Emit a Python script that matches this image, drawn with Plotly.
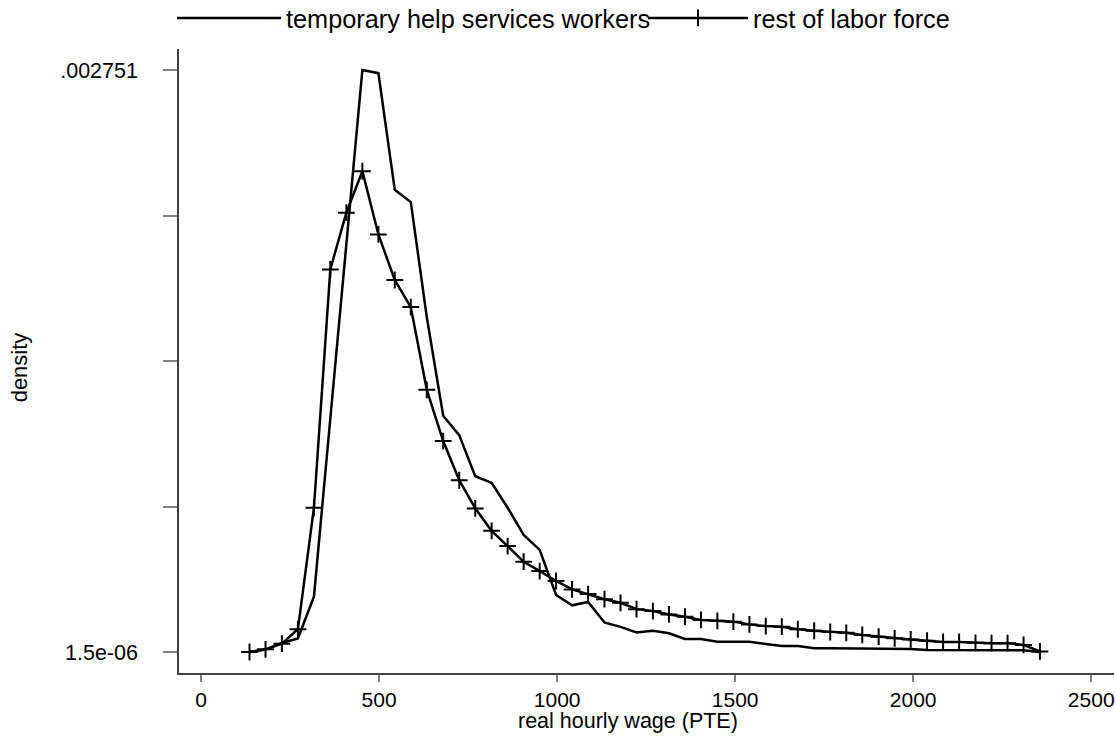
import plotly.graph_objects as go

# Evaluation grid (real hourly wage, PTE)
wage = [136, 181, 227, 272, 317, 363, 408, 453, 498, 544,
        589, 634, 680, 725, 770, 816, 861, 906, 951, 997,
        1042, 1087, 1133, 1178, 1223, 1269, 1314, 1359, 1404, 1450,
        1495, 1540, 1586, 1631, 1676, 1722, 1767, 1812, 1857, 1903,
        1948, 1993, 2039, 2084, 2129, 2175, 2220, 2265, 2310, 2356]

# density values, in units of 1e-6
temp_help_e6 = [2, 13, 44, 66, 263, 1092, 1923, 2751, 2736, 2185,
                2127, 1583, 1118, 1026, 832, 801, 683, 555, 484, 271,
                222, 238, 141, 120, 94, 102, 90, 63, 63, 50,
                50, 50, 39, 30, 30, 19, 19, 18, 16, 16,
                16, 16, 11, 11, 11, 11, 11, 11, 10, 2]

rest_e6 = [1.5, 14, 41, 109, 683, 1809, 2077, 2273, 1974, 1759,
           1631, 1240, 998, 813, 680, 574, 502, 428, 384, 337,
           297, 275, 251, 234, 204, 195, 179, 168, 153, 149,
           145, 132, 124, 121, 109, 102, 96, 92, 82, 74,
           66, 61, 55, 49, 49, 45, 43, 43, 35, 4]

temp_help = [v * 1e-6 for v in temp_help_e6]
rest = [v * 1e-6 for v in rest_e6]

series_names = ["temporary help services workers", "rest of labor force"]

y_tickvals = [0.0000015, 0.000688875, 0.00137625, 0.002063625, 0.002751]
y_ticktext = ["1.5e-06", "", "", "", ".002751"]
x_tickvals = [0, 500, 1000, 1500, 2000, 2500]
x_ticktext = ["0", "500", "1000", "1500", "2000", "2500"]
x_title = "real hourly wage (PTE)"
y_title = "density"

FONT = "Liberation Sans, Arial, sans-serif"

fig = go.Figure()
fig.add_trace(go.Scatter(
    x=wage, y=temp_help, mode="lines", name=series_names[0], legend="legend",
    line=dict(color="black", width=2.5)))
fig.add_trace(go.Scatter(
    x=wage, y=rest, mode="lines+markers", name=series_names[1], legend="legend2",
    line=dict(color="black", width=2.5),
    marker=dict(symbol="cross-thin", size=12, color="black",
                line=dict(color="black", width=2))))

legend_common = dict(orientation="h", yref="container", y=1 - 18 / 742, yanchor="middle",
                     xref="container", xanchor="left",
                     font=dict(family=FONT, size=25.3, color="black"),
                     bgcolor="rgba(0,0,0,0)")

fig.update_layout(
    width=1116, height=742,
    margin=dict(l=179, r=2, t=49, b=69, autoexpand=False),
    paper_bgcolor="white", plot_bgcolor="white",
    font=dict(family=FONT, size=21, color="black"),
    showlegend=True,
    legend=dict(x=172 / 1116, itemwidth=104, **legend_common),
    legend2=dict(x=643 / 1116, itemwidth=100, **legend_common),
    xaxis=dict(range=[-62, 2564], showline=True, linecolor="#404040", linewidth=1.5,
               ticks="outside", ticklen=7, tickcolor="#808080", tickwidth=1.5,
               tickvals=x_tickvals, ticktext=x_ticktext, showgrid=False, zeroline=False,
               tickfont=dict(size=21), automargin=False),
    yaxis=dict(range=[-0.0000977, 0.0028502], showline=True, linecolor="#404040", linewidth=1.5,
               ticks="outside", ticklen=14, tickcolor="#808080", tickwidth=1.5,
               tickvals=y_tickvals, ticktext=y_ticktext, showgrid=False, zeroline=False,
               tickfont=dict(size=21.5), ticklabelstandoff=21, automargin=False),
    annotations=[
        dict(text=x_title, xref="paper", yref="paper", x=0.48, y=-(721 - 673) / 624,
             xanchor="center", yanchor="middle", showarrow=False,
             font=dict(family=FONT, size=21.5, color="black")),
        dict(text=y_title, xref="paper", yref="paper", x=-0.171, y=0.49,
             xanchor="center", yanchor="middle", showarrow=False, textangle=-90,
             font=dict(family=FONT, size=22, color="black")),
    ],
)

fig.write_html("out.html", config={"displayModeBar": False},
               post_script="document.body.style.margin='0px';")
